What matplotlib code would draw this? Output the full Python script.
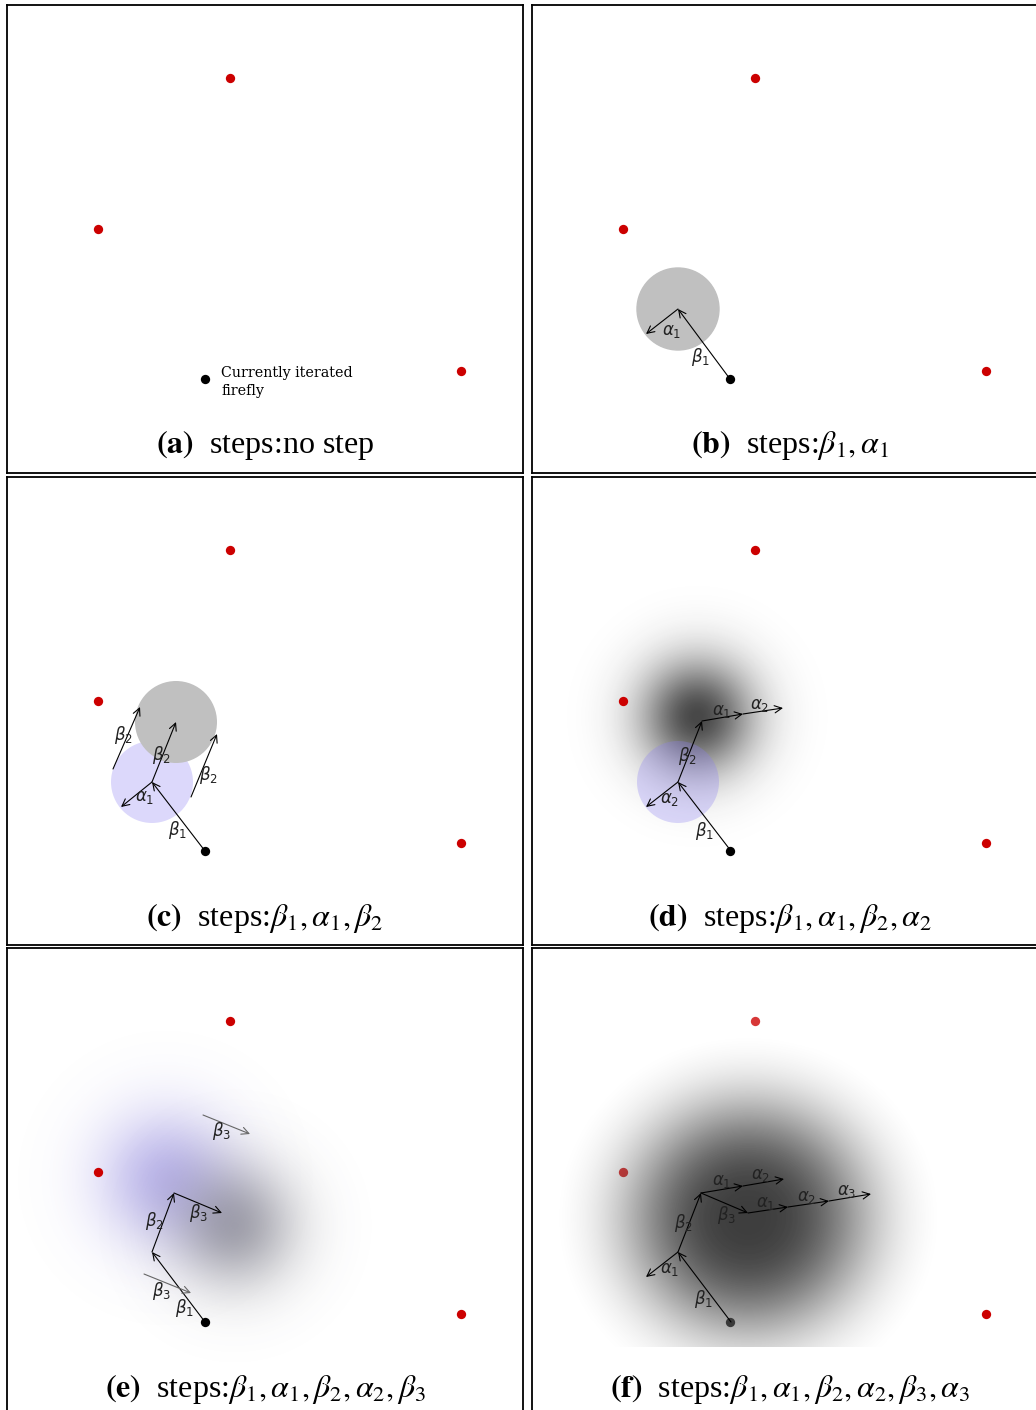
import numpy as np
import matplotlib.pyplot as plt
from matplotlib.patches import Circle

plt.rcParams['font.family'] = ['Liberation Serif', 'DejaVu Serif']
plt.rcParams['mathtext.fontset'] = 'stix'

# panel size in pixels, panel top-left corners on the page
PW, PH = 516, 468
origins = [(7, 5), (532, 5), (7, 477), (532, 477), (7, 948), (532, 948)]

captions = [r'$\mathbf{(a)}$  steps:no step',
            r'$\mathbf{(b)}$  steps:$\beta_1,\alpha_1$',
            r'$\mathbf{(c)}$  steps:$\beta_1,\alpha_1,\beta_2$',
            r'$\mathbf{(d)}$  steps:$\beta_1,\alpha_1,\beta_2,\alpha_2$',
            r'$\mathbf{(e)}$  steps:$\beta_1,\alpha_1,\beta_2,\alpha_2,\beta_3$',
            r'$\mathbf{(f)}$  steps:$\beta_1,\alpha_1,\beta_2,\alpha_2,\beta_3,\alpha_3$']

# other fireflies and the current one (panel coords, y down)
red_x = [223, 91, 454]
red_y = [73, 224, 366]
cur_x, cur_y = 198, 374

# arrows: x0, y0, x1, y1, colour
arrows = {
    1: [(198, 374, 146, 304, 'k'), (146, 304, 114, 329, 'k')],
    2: [(198, 374, 145, 305, 'k'), (145, 305, 114, 330, 'k'), (145, 305, 169, 245, 'k'),
        (106, 292, 133, 230, 'k'), (184, 320, 210, 257, 'k')],
    3: [(199, 374, 146, 305, 'k'), (146, 305, 114, 330, 'k'), (146, 305, 170, 244, 'k'),
        (170, 244, 211, 237, 'k'), (211, 237, 251, 231, 'k')],
    4: [(198, 374, 145, 304, 'k'), (145, 304, 167, 245, 'k'), (167, 245, 215, 265, 'k'),
        (196, 167, 243, 186, '#666666'), (137, 326, 184, 345, '#666666')],
    5: [(199, 374, 146, 304, 'k'), (146, 304, 114, 329, 'k'), (146, 304, 169, 245, 'k'),
        (169, 245, 211, 238, 'k'), (211, 238, 252, 231, 'k'), (169, 245, 216, 265, 'k'),
        (216, 265, 256, 259, 'k'), (256, 259, 297, 253, 'k'), (297, 253, 339, 246, 'k')],
}

# arrow labels: x, y, greek letter, index
labels = {
    1: [(140, 326, 'alpha', 1), (169, 352, 'beta', 1)],
    2: [(116, 258, 'beta', 2), (154, 278, 'beta', 2), (201, 298, 'beta', 2),
        (138, 321, 'alpha', 1), (171, 353, 'beta', 1)],
    3: [(190, 234, 'alpha', 1), (228, 228, 'alpha', 2), (155, 279, 'beta', 2),
        (138, 322, 'alpha', 2), (173, 354, 'beta', 1)],
    4: [(215, 183, 'beta', 3), (192, 265, 'beta', 3), (147, 273, 'beta', 2),
        (155, 343, 'beta', 3), (178, 360, 'beta', 1)],
    5: [(190, 234, 'alpha', 1), (229, 228, 'alpha', 2), (234, 255, 'alpha', 1),
        (275, 249, 'alpha', 2), (315, 244, 'alpha', 3), (195, 267, 'beta', 3),
        (151, 275, 'beta', 2), (138, 321, 'alpha', 1), (172, 351, 'beta', 1)],
}

LAV = (0.55, 0.5, 0.95)


def glow(ax, cx, cy, sigma, rgb, peak, box=(0, 516, 0, 468), z=1):
    x0, x1, y0, y1 = box
    xx, yy = np.meshgrid(np.linspace(x0, x1, 300), np.linspace(y0, y1, 300))
    a = peak * np.exp(-((xx - cx) ** 2 + (yy - cy) ** 2) / (2 * sigma ** 2))
    img = np.zeros(xx.shape + (4,))
    img[..., :3] = rgb
    img[..., 3] = a
    ax.imshow(img, extent=(x0, x1, y1, y0), origin='upper', aspect='auto',
              interpolation='bilinear', zorder=z)


def dark_blob(ax, cx, cy, s, p, peak, box, z):
    # grey blob drawn on top of the dots, slightly washing them out
    x0, x1, y0, y1 = box
    xx, yy = np.meshgrid(np.linspace(x0, x1, 400), np.linspace(y0, y1, 400))
    r = np.sqrt(((xx - cx) / 1.05) ** 2 + (yy - cy) ** 2)
    d = np.exp(-(r / s) ** p)
    d = peak * np.clip(d - 0.03, 0, None) / 0.97
    a = 0.22 + 0.78 * d / peak
    c = 1 - d / a
    img = np.zeros(xx.shape + (4,))
    img[..., 0] = c
    img[..., 1] = c
    img[..., 2] = c
    img[..., 3] = a
    ax.imshow(img, extent=(x0, x1, y1, y0), origin='upper', aspect='auto',
              interpolation='bilinear', zorder=z)


fig = plt.figure(figsize=(10.36, 14.10), dpi=100)

for i, (ox, oy) in enumerate(origins):
    ax = fig.add_axes([ox / 1036, 1 - (oy + PH) / 1410, PW / 1036, PH / 1410])
    ax.set_xticks([])
    ax.set_yticks([])
    for s in ax.spines.values():
        s.set_linewidth(1.3)
        s.set_color('black')
        s.set_zorder(6)

    if i == 1:
        ax.add_patch(Circle((146, 304), 41, color='#c0c0c0', zorder=1))
    if i == 2:
        ax.add_patch(Circle((145, 305), 41, color=LAV, alpha=0.3, lw=0, zorder=1))
        ax.add_patch(Circle((169, 245), 41, color='#c0c0c0', lw=0, zorder=1.5))
    if i == 3:
        glow(ax, 165, 240, 40, (0.12, 0.12, 0.12), 0.82)
        ax.add_patch(Circle((146, 305), 41, color=LAV, alpha=0.3, lw=0, zorder=1.5))
    if i == 4:
        glow(ax, 158, 230, 48, (0.45, 0.4, 0.85), 0.45)
        glow(ax, 228, 278, 44, (0.3, 0.3, 0.36), 0.5, z=1.2)

    ax.scatter(red_x, red_y, s=45, color='#cc0000', lw=0, zorder=3)
    ax.scatter([cur_x], [cur_y], s=45, color='black', lw=0, zorder=3)

    if i == 5:
        dark_blob(ax, 216, 270, 115, 2.8, 0.76, (20, 430, 3, 399), 3.5)

    for x0, y0, x1, y1, col in arrows.get(i, []):
        ax.annotate('', xy=(x1, y1), xytext=(x0, y0),
                    arrowprops=dict(arrowstyle='->', lw=0.8, color=col,
                                    shrinkA=0, shrinkB=0, mutation_scale=13),
                    zorder=4)
    for x, y, g, k in labels.get(i, []):
        ax.text(x, y, r'$\%s_\mathit{%d}$' % (g, k), fontsize=12,
                math_fontfamily='dejavusans', ha='center', va='center',
                color='#222222', zorder=5)

    if i == 0:
        ax.text(214, 377, 'Currently iterated\nfirefly', fontsize=10.3,
                family='DejaVu Serif', ha='left', va='center', linespacing=1.3)

    ax.text(258, 441, captions[i], fontsize=23, ha='center', va='center')

    ax.set_xlim(0, PW)
    ax.set_ylim(PH, 0)

fig.savefig('out.png', dpi=100)
